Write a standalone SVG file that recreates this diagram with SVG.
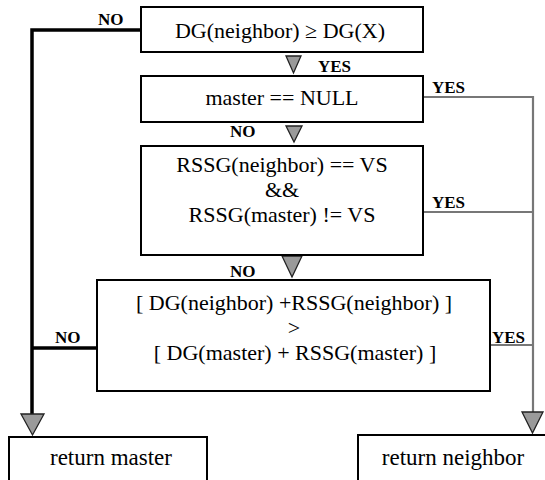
<svg xmlns="http://www.w3.org/2000/svg" width="545" height="480" viewBox="0 0 545 480">
<style>
.box{fill:#fff;stroke:#000;stroke-width:2}
.t{font-family:'Liberation Serif','Times New Roman','DejaVu Serif',serif;font-size:22px;fill:#000;text-anchor:middle}
.lb{font-family:'Liberation Serif','Times New Roman','DejaVu Serif',serif;font-size:17px;font-weight:bold;fill:#000}
.tri{fill:#9a9a9a;stroke:#222;stroke-width:1.3}
.thick{fill:none;stroke:#000;stroke-width:3.5}
.thin{fill:none;stroke:#777;stroke-width:2.2}
</style>
<rect width="545" height="480" fill="#fff"/>
<g id="connectors">
<polyline class="thick" points="141,30 32,30 32,415"/>
<line class="thick" x1="97" y1="348" x2="32" y2="348"/>
<polygon class="tri" points="21,414 44,414 32.5,435"/>
<polyline class="thin" points="423,97 533,97 533,414"/>
<line class="thin" x1="423" y1="212" x2="533" y2="212"/>
<line class="thin" x1="490" y1="345" x2="533" y2="345"/>
<polygon class="tri" points="522,412 543,412 532.5,433"/>
<polygon class="tri" points="286,56 301,56 293.5,73"/>
<polygon class="tri" points="286,126 302,126 294,142"/>
<polygon class="tri" points="282,256 302,256 292,277"/>
<text class="lb" x="98" y="25">NO</text>
<text class="lb" x="318" y="72">YES</text>
<text class="lb" x="432" y="93">YES</text>
<text class="lb" x="230" y="137">NO</text>
<text class="lb" x="432" y="208">YES</text>
<text class="lb" x="230" y="277">NO</text>
<text class="lb" x="55" y="343">NO</text>
<text class="lb" x="492" y="343">YES</text>
</g>
<g id="n1">
<rect class="box" x="141" y="7" width="282" height="45"/>
<text class="t" x="280" y="38">DG(neighbor) ≥ DG(X)</text>
</g>
<g id="n2">
<rect class="box" x="141" y="76" width="282" height="46"/>
<text class="t" x="282" y="105">master == NULL</text>
</g>
<g id="n3">
<rect class="box" x="141" y="146" width="282" height="109"/>
<text class="t" x="282" y="172">RSSG(neighbor) == VS</text>
<text class="t" x="282" y="197">&amp;&amp;</text>
<text class="t" x="282" y="222">RSSG(master) != VS</text>
</g>
<g id="n4">
<rect class="box" x="97" y="280" width="393" height="111"/>
<text class="t" x="294" y="310">[ DG(neighbor) +RSSG(neighbor) ]</text>
<text class="t" x="294" y="335">&gt;</text>
<text class="t" x="295" y="360">[ DG(master) + RSSG(master) ]</text>
</g>
<g id="n5">
<rect class="box" x="9" y="437" width="198" height="55"/>
<text class="t" x="111" y="465" style="font-size:23px">return master</text>
</g>
<g id="n6">
<rect class="box" x="358" y="435" width="200" height="55"/>
<text class="t" x="453" y="465" style="font-size:23px">return neighbor</text>
</g>
</svg>
